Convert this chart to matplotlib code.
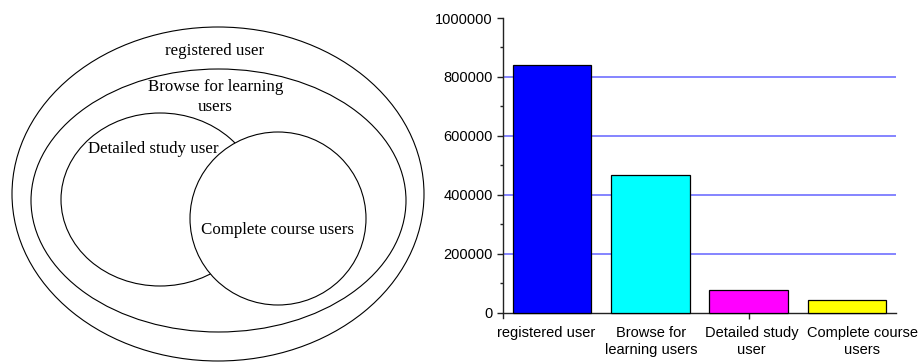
import matplotlib
matplotlib.use("Agg")
import matplotlib.pyplot as plt
import numpy as np
from matplotlib.patches import Ellipse
from matplotlib.ticker import MultipleLocator, StrMethodFormatter

# ---- data -------------------------------------------------------------
categories = ["registered user", "Browse for\nlearning users",
              "Detailed study\nuser", "Complete course\nusers"]
user_counts = [840000, 468000, 78000, 43000]
bar_colors = ["#0000ff", "#00ffff", "#ff00ff", "#ffff00"]
y_ticks = [0, 200000, 400000, 600000, 800000, 1000000]

venn_labels = ["registered user", "Browse for learning\nusers",
               "Detailed study user", "Complete course users"]

# ---- figure -----------------------------------------------------------
W, H = 923, 362
fig = plt.figure(figsize=(W / 100, H / 100), dpi=100)
fig.patch.set_facecolor("white")

# ---- nested-set diagram (pixel coordinate frame) ----------------------
axv = fig.add_axes([0, 0, 440 / W, 1])
axv.set_xlim(0, 440)
axv.set_ylim(H, 0)
axv.axis("off")

lw = 0.8
# (center x, center y, width, height) for each set outline
shapes = [
    (218, 194, 412, 334),
    (218.5, 200.5, 375, 263),
    (160, 199.5, 198, 173),
    (278, 218.5, 176, 173),
]
for k, (cx, cy, w, h) in enumerate(shapes):
    axv.add_patch(Ellipse((cx, cy), w, h, facecolor="white",
                          edgecolor="black", linewidth=lw, zorder=k + 1))

serif = ["Liberation Serif", "DejaVu Serif"]
label_pos = [(215, 51), (215.5, 97), (153, 149), (277.5, 230)]
for text, (tx, ty) in zip(venn_labels, label_pos):
    axv.text(tx, ty, text, ha="center", va="center", family=serif,
             fontsize=12.2, linespacing=1.36, zorder=10)

# ---- bar chart --------------------------------------------------------
ax = fig.add_axes([503 / W, (H - 318) / H, 393 / W, 300 / H])
x = np.arange(len(categories))
ax.bar(x, user_counts, width=0.8, color=bar_colors,
       edgecolor="black", linewidth=0.9, zorder=3)

ax.set_xlim(-0.5, 3.5)
ax.set_ylim(-17000, 1000000)

for side in ("top", "right"):
    ax.spines[side].set_visible(False)
ax.spines["bottom"].set_position(("data", 0))
for side in ("left", "bottom"):
    ax.spines[side].set_linewidth(1.0)
    ax.spines[side].set_color("#222222")

ax.set_yticks(y_ticks)
ax.yaxis.set_major_formatter(StrMethodFormatter("{x:.0f}"))
ax.yaxis.set_minor_locator(MultipleLocator(100000))
ax.tick_params(axis="y", which="major", length=4, width=1.0,
               direction="out", pad=3.5, labelsize=10.5,
               colors="#222222", labelcolor="black")
ax.tick_params(axis="y", which="minor", length=2, width=1.0,
               direction="out", colors="#222222")
for lab in ax.get_yticklabels():
    lab.set_family(["Liberation Sans", "DejaVu Sans"])

# horizontal guide lines behind the bars
ax.set_axisbelow(True)
ax.yaxis.grid(True, color="#7070ff", linewidth=1.2, zorder=0)
for tick, val in zip(ax.yaxis.get_major_ticks(), y_ticks):
    if val in (0, 1000000):
        tick.gridline.set_visible(False)

ax.set_xticks(x)
ax.set_xticklabels([""] * len(categories))
ax.tick_params(axis="x", length=4, width=1.0, direction="out",
               colors="#222222")
for i, tick in enumerate(ax.xaxis.get_major_ticks()):
    if i != 2:
        tick.tick1line.set_visible(False)

# category labels beneath the axis
label_shift = [-4.5, 0.5, 2.0, 11.0]  # horizontal nudge, points
for xi, name, dx in zip(x, categories, label_shift):
    ax.annotate(name, xy=(xi, 0), xycoords=("data", "axes fraction"),
                xytext=(dx, -5.5), textcoords="offset points",
                ha="center", va="top", fontsize=10.5, linespacing=1.32,
                family=["Liberation Sans", "DejaVu Sans"],
                annotation_clip=False)

fig.savefig("out.png", dpi=100, facecolor="white")
